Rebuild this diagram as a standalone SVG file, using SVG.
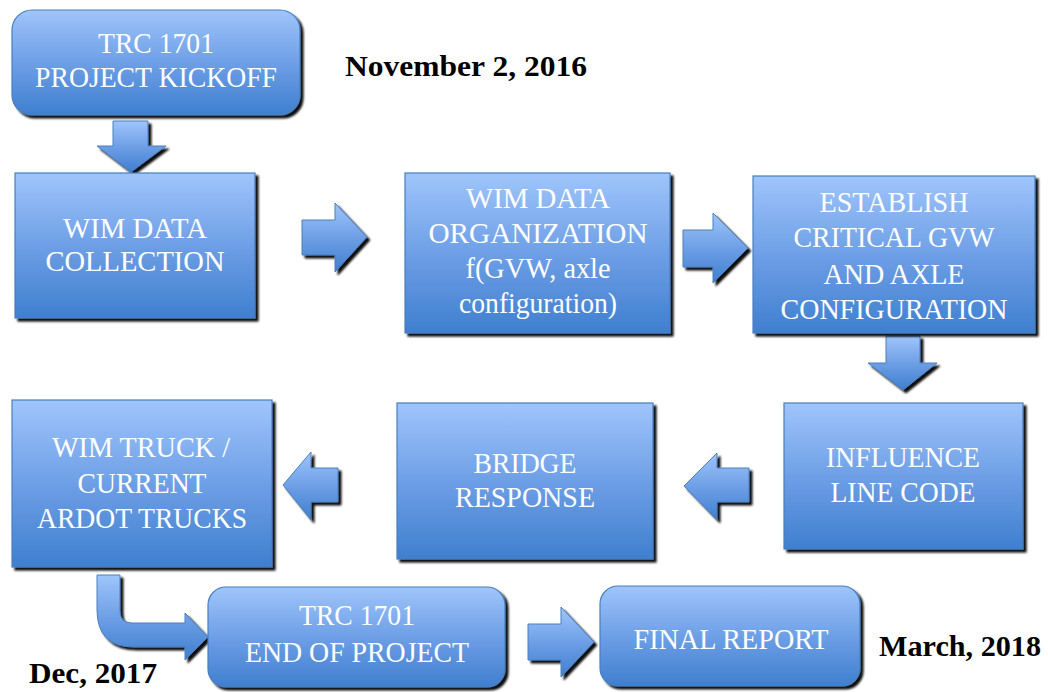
<svg xmlns="http://www.w3.org/2000/svg" width="1048" height="692" viewBox="0 0 1048 692">
<defs>
<linearGradient id="g" x1="0" y1="0" x2="0" y2="1">
<stop offset="0" stop-color="#9fc5fb"/>
<stop offset="0.5" stop-color="#6e9fe6"/>
<stop offset="1" stop-color="#3f7fcf"/>
</linearGradient>
<filter id="sh" x="-10%" y="-10%" width="125%" height="125%">
<feDropShadow dx="3" dy="3" stdDeviation="1.2" flood-color="#000" flood-opacity="0.95"/>
</filter>
<style>
.box{fill:url(#g);stroke:#4a7ebb;stroke-width:1.2;filter:url(#sh)}
.arr{fill:url(#g);stroke:#4a7ebb;stroke-width:1;filter:url(#sh)}
.t{font-family:"Liberation Serif","DejaVu Serif","Times New Roman",serif;font-size:30px;fill:#ffffff;text-anchor:middle}
.d{font-family:"Liberation Serif","DejaVu Serif","Times New Roman",serif;font-size:29px;font-weight:bold;fill:#000000}
</style>
</defs>
<rect width="1048" height="692" fill="#ffffff"/>

<g id="connectors">
<polygon class="arr" points="113,121 148,121 148,146 166,146 131,172 97,146 113,146"/>
<polygon class="arr" points="302,220 335,220 335,203 367,237 335,272 335,255 302,255"/>
<polygon class="arr" points="683,230 713,230 713,213 748,248 713,283 713,267 683,267"/>
<polygon class="arr" points="886,336 920,336 920,363 937,363 903,390 868,363 886,363"/>
<polygon class="arr" points="749,468 717,468 717,453 684,486 717,520 717,502 749,502"/>
<polygon class="arr" points="338,468 311,468 311,452 283,485 311,520 311,502 338,502"/>
<path class="arr" d="M97,575 L120,575 L120,611 Q120,623 132,623 L185,623 L185,613 L208,637 L185,660 L185,647 L134,647 Q97,647 97,610 Z"/>
<polygon class="arr" points="528,624 561,624 561,607 594,642 561,677 561,660 528,660"/>
</g>

<g id="kickoff">
<rect class="box" x="12" y="10" width="288" height="105" rx="20"/>
<text class="t" x="156" y="53" textLength="116" lengthAdjust="spacingAndGlyphs">TRC 1701</text>
<text class="t" x="156" y="87" textLength="242" lengthAdjust="spacingAndGlyphs">PROJECT KICKOFF</text>
</g>

<g id="wim-collection">
<rect class="box" x="15" y="173" width="240" height="145"/>
<text class="t" x="135" y="238" textLength="144" lengthAdjust="spacingAndGlyphs">WIM DATA</text>
<text class="t" x="135" y="271" textLength="179" lengthAdjust="spacingAndGlyphs">COLLECTION</text>
</g>

<g id="wim-organization">
<rect class="box" x="405" y="173" width="265" height="160"/>
<text class="t" x="538" y="208" textLength="144" lengthAdjust="spacingAndGlyphs">WIM DATA</text>
<text class="t" x="538" y="243" textLength="219" lengthAdjust="spacingAndGlyphs">ORGANIZATION</text>
<text class="t" x="538" y="278" textLength="145" lengthAdjust="spacingAndGlyphs">f(GVW, axle</text>
<text class="t" x="538" y="313" textLength="158" lengthAdjust="spacingAndGlyphs">configuration)</text>
</g>

<g id="establish">
<rect class="box" x="753" y="176" width="282" height="157"/>
<text class="t" x="894" y="212" textLength="149" lengthAdjust="spacingAndGlyphs">ESTABLISH</text>
<text class="t" x="894" y="247" textLength="201" lengthAdjust="spacingAndGlyphs">CRITICAL GVW</text>
<text class="t" x="894" y="284" textLength="141" lengthAdjust="spacingAndGlyphs">AND AXLE</text>
<text class="t" x="894" y="319" textLength="227" lengthAdjust="spacingAndGlyphs">CONFIGURATION</text>
</g>

<g id="influence">
<rect class="box" x="784" y="403" width="239" height="146"/>
<text class="t" x="903" y="467" textLength="154" lengthAdjust="spacingAndGlyphs">INFLUENCE</text>
<text class="t" x="903" y="502" textLength="145" lengthAdjust="spacingAndGlyphs">LINE CODE</text>
</g>

<g id="bridge">
<rect class="box" x="397" y="403" width="256" height="156"/>
<text class="t" x="525" y="473" textLength="103" lengthAdjust="spacingAndGlyphs">BRIDGE</text>
<text class="t" x="525" y="507" textLength="140" lengthAdjust="spacingAndGlyphs">RESPONSE</text>
</g>

<g id="wim-truck">
<rect class="box" x="12" y="400" width="260" height="167"/>
<text class="t" x="141" y="457" textLength="178" lengthAdjust="spacingAndGlyphs">WIM TRUCK /</text>
<text class="t" x="142" y="493" textLength="129" lengthAdjust="spacingAndGlyphs">CURRENT</text>
<text class="t" x="142" y="528" textLength="210" lengthAdjust="spacingAndGlyphs">ARDOT TRUCKS</text>
</g>

<g id="end-project">
<rect class="box" x="208" y="587" width="297" height="100" rx="18"/>
<text class="t" x="357" y="625" textLength="116" lengthAdjust="spacingAndGlyphs">TRC 1701</text>
<text class="t" x="357" y="662" textLength="224" lengthAdjust="spacingAndGlyphs">END OF PROJECT</text>
</g>

<g id="final-report">
<rect class="box" x="600" y="586" width="260" height="100" rx="18"/>
<text class="t" x="731" y="649" textLength="195" lengthAdjust="spacingAndGlyphs">FINAL REPORT</text>
</g>

<g id="dates">
<text class="d" x="345" y="76" textLength="242" lengthAdjust="spacingAndGlyphs">November 2, 2016</text>
<text class="d" x="879" y="656" textLength="162" lengthAdjust="spacingAndGlyphs">March, 2018</text>
<text class="d" x="29" y="683" textLength="128" lengthAdjust="spacingAndGlyphs">Dec, 2017</text>
</g>
</svg>
